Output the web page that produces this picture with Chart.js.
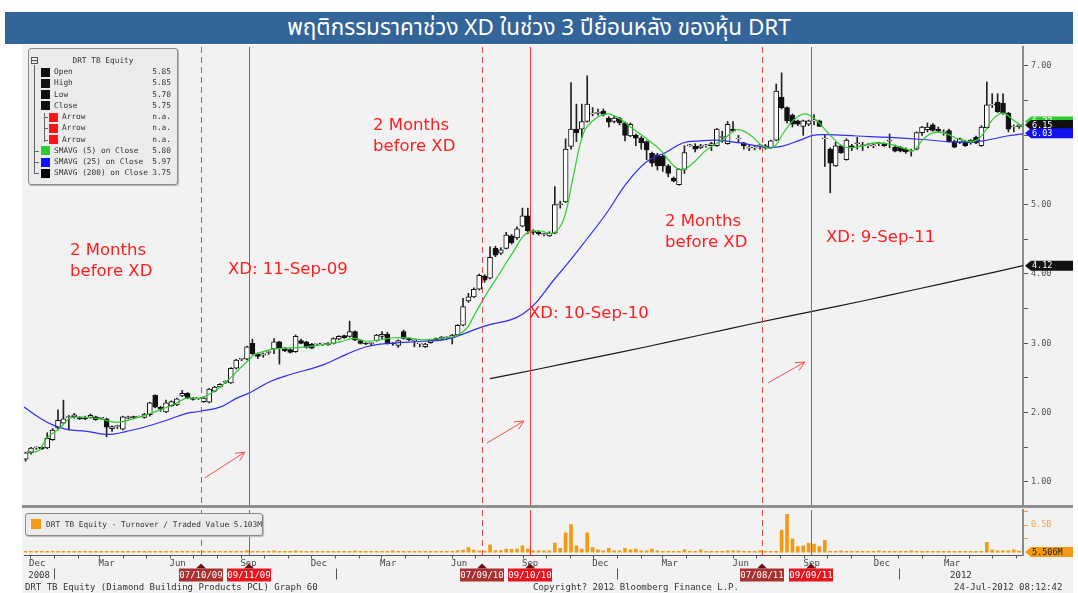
<!DOCTYPE html>
<html>
<head>
<meta charset="utf-8">
<script src="https://cdn.jsdelivr.net/npm/chart.js@4.4.1/dist/chart.umd.min.js"></script>
<style>
  html, body { margin: 0; padding: 0; background: #fff; }
  body { width: 1078px; height: 593px; position: relative; overflow: hidden; font-family: 'DejaVu Sans Mono', monospace; }
  #bar { position: absolute; left: 5px; top: 12px; width: 1068px; height: 32px; background: #33649a; color: #fff;
         text-align: center; font: 22.5px 'Noto Sans Thai', 'Noto Sans', 'DejaVu Sans', sans-serif; line-height: 32px; }
  #panel { position: absolute; left: 22px; top: 45px; width: 1051px; height: 548px; background: #f2f2f2; }
  .wrap { position: absolute; left: 22px; width: 1051px; }
  #pwrap { top: 45px; height: 463px; }
  #vwrap { top: 509px; height: 76px; }
  #sep { position: absolute; left: 22px; top: 505px; width: 1051px; height: 3px; background: #8f8f8f; }
  .note { position: absolute; color: #ff1e1e; font: 16.5px 'DejaVu Sans', sans-serif; line-height: 21px; white-space: nowrap; }
  .foot { position: absolute; top: 582px; font: 9px 'DejaVu Sans Mono', monospace; color: #333; white-space: nowrap; }
  .box { position: absolute; background: #ebebeb; border: 1px solid #8a8a8a; border-radius: 3px;
         box-shadow: 1px 1px 1px #b5b5b5; font: 7.8px 'DejaVu Sans Mono', monospace; color: #333; }
  .box div, .box span { position: absolute; white-space: nowrap; }
</style>
</head>
<body>
<div id="bar">พฤติกรรมราคาช่วง XD ในช่วง 3 ปีย้อนหลัง ของหุ้น DRT</div>
<div id="panel"></div>
<div class="wrap" id="pwrap"><canvas id="priceChart"></canvas></div>
<div class="wrap" id="vwrap"><canvas id="volChart"></canvas></div>
<div id="sep"></div>

<div class="box" id="lg" style="left:28px;top:48px;width:148px;height:135px;"></div>
<div class="box" id="vlg" style="left:25px;top:513px;width:236px;height:21px;">
  <div style="left:5px;top:5px;width:10px;height:10px;background:#f39a12;"></div>
  <div style="left:20px;top:5px;line-height:11px;">DRT TB Equity - Turnover / Traded Value 5.103M</div>
</div>

<div class="note" style="left:70px;top:239px;">2 Months<br>before XD</div>
<div class="note" style="left:228px;top:258px;">XD: 11-Sep-09</div>
<div class="note" style="left:373px;top:114px;">2 Months<br>before XD</div>
<div class="note" style="left:529px;top:302px;">XD: 10-Sep-10</div>
<div class="note" style="left:665px;top:210px;">2 Months<br>before XD</div>
<div class="note" style="left:826px;top:226px;">XD: 9-Sep-11</div>

<div class="foot" style="left:25px;">DRT TB Equity (Diamond Building Products PCL) Graph 60</div>
<div class="foot" style="left:533px;">Copyright? 2012 Bloomberg Finance L.P.</div>
<div class="foot" style="left:954px;">24-Jul-2012 08:12:42</div>

<script>
// weekly bars, first week starting 25 Nov 2008
const startDate = '2008-11-25';

const openPx = [
  1.33,1.42,1.49,1.50,1.49,1.61,1.78,1.85,1.93,1.94,
  1.93,1.93,1.93,1.94,1.92,1.91,1.77,1.80,1.76,1.92,
  1.94,1.94,1.93,1.97,2.25,2.08,2.01,2.10,2.11,2.24,
  2.28,2.21,2.21,2.16,2.15,2.31,2.37,2.44,2.43,2.64,
  2.77,2.77,3.00,2.85,2.83,2.87,2.92,3.02,2.93,2.91,
  2.88,3.04,3.02,2.99,2.99,2.99,2.98,3.00,3.06,3.11,
  3.10,3.17,3.04,3.00,3.00,3.04,3.10,3.13,3.00,2.97,
  3.17,3.07,3.04,2.99,2.95,3.01,3.07,3.06,3.08,3.08,
  3.12,3.26,3.61,3.67,3.78,3.97,3.94,4.37,4.30,4.37,
  4.55,4.52,4.69,4.84,4.62,4.60,4.57,4.55,4.59,5.00,
  5.04,5.84,6.09,6.09,6.20,6.31,6.32,6.35,6.25,6.20,
  6.24,6.18,5.99,6.00,5.96,5.91,5.74,5.72,5.70,5.56,
  5.38,5.29,5.51,5.85,5.84,5.82,5.85,5.85,5.85,5.97,
  5.88,6.09,5.95,5.89,5.82,5.82,5.85,5.82,5.82,5.93,
  6.55,6.40,6.29,6.21,6.13,6.16,6.21,6.21,5.95,5.80,
  5.56,5.85,5.65,5.85,5.88,5.85,5.85,5.85,5.88,5.88,
  5.92,5.83,5.83,5.80,5.77,5.80,6.04,6.08,6.15,6.09,
  6.04,6.07,5.91,5.90,5.91,5.89,5.97,5.85,6.11,6.44,
  6.48,6.46,6.32,6.12,6.12
];
const highPx = [
  1.43,1.50,1.51,1.51,1.71,1.77,2.04,2.18,1.96,1.99,
  1.94,1.95,1.98,1.95,1.93,1.92,1.81,1.82,1.95,1.95,
  1.95,1.95,1.99,2.15,2.26,2.09,2.18,2.17,2.21,2.32,
  2.29,2.22,2.22,2.22,2.35,2.38,2.42,2.46,2.65,2.77,
  2.78,2.96,3.06,2.86,2.86,2.89,3.07,3.03,2.94,2.92,
  3.12,3.06,3.03,3.00,3.00,3.00,3.01,3.08,3.11,3.12,
  3.32,3.18,3.05,3.01,3.01,3.13,3.17,3.16,3.01,3.05,
  3.19,3.08,3.05,3.00,3.00,3.06,3.08,3.10,3.09,3.13,
  3.27,3.65,3.72,3.80,4.00,3.99,4.39,4.40,4.38,4.60,
  4.57,4.68,4.95,4.95,4.64,4.62,4.59,4.61,5.26,5.05,
  5.95,6.76,6.45,6.45,6.86,6.40,6.38,6.38,6.27,6.27,
  6.26,6.19,6.18,6.02,5.98,5.92,5.76,5.74,5.72,5.58,
  5.40,5.52,5.85,5.87,5.88,5.87,5.87,5.90,6.10,6.06,
  6.20,6.20,6.00,5.90,5.86,5.84,5.87,5.87,5.93,6.74,
  6.90,6.41,6.31,6.22,6.22,6.22,6.30,6.22,6.00,5.82,
  5.90,5.86,5.95,5.87,5.97,5.90,5.88,5.88,5.90,5.89,
  6.02,5.86,5.84,5.82,5.80,6.05,6.13,6.18,6.17,6.12,
  6.08,6.09,5.93,5.96,5.93,5.94,5.99,6.14,6.77,6.60,
  6.60,6.60,6.33,6.15,6.16
];
const lowPx = [
  1.30,1.40,1.47,1.47,1.48,1.60,1.75,1.84,1.75,1.92,
  1.90,1.90,1.92,1.89,1.90,1.65,1.73,1.77,1.75,1.91,
  1.92,1.93,1.92,1.95,2.07,2.02,2.00,2.09,2.10,2.23,
  2.20,2.18,2.19,2.15,2.14,2.30,2.36,2.42,2.42,2.63,
  2.75,2.76,2.84,2.78,2.80,2.84,2.85,2.70,2.88,2.86,
  2.87,2.99,2.93,2.92,2.97,2.97,2.97,2.99,3.05,3.07,
  3.09,3.04,2.99,2.98,2.98,3.03,3.06,2.99,2.97,2.94,
  3.06,3.04,2.95,2.95,2.94,3.00,3.04,3.05,3.06,2.99,
  3.11,3.25,3.59,3.66,3.77,3.88,3.93,4.25,4.28,4.36,
  4.43,4.50,4.68,4.58,4.57,4.56,4.55,4.54,4.58,4.95,
  5.03,5.80,5.91,5.97,6.19,6.28,6.29,6.28,6.12,6.18,
  6.15,5.92,5.98,5.85,5.80,5.65,5.55,5.50,5.48,5.40,
  5.33,5.28,5.45,5.84,5.76,5.81,5.83,5.78,5.84,5.90,
  5.87,6.05,5.90,5.80,5.78,5.79,5.80,5.80,5.81,5.92,
  6.38,6.18,6.12,6.14,6.00,6.14,6.15,6.13,5.55,5.17,
  5.55,5.74,5.64,5.78,5.80,5.78,5.82,5.82,5.85,5.84,
  5.82,5.76,5.76,5.74,5.70,5.79,6.00,6.05,6.06,6.05,
  6.00,5.90,5.82,5.88,5.84,5.87,5.88,5.84,6.10,6.40,
  6.33,6.30,6.05,6.05,6.10
];
const closePx = [
  1.42,1.49,1.49,1.48,1.63,1.75,1.89,1.91,1.94,1.97,
  1.91,1.91,1.96,1.90,1.92,1.79,1.80,1.80,1.94,1.94,
  1.93,1.94,1.98,2.14,2.08,2.05,2.14,2.16,2.20,2.28,
  2.21,2.19,2.21,2.21,2.34,2.37,2.41,2.44,2.64,2.76,
  2.77,2.95,2.85,2.81,2.85,2.87,3.02,2.93,2.89,2.87,
  3.10,3.00,2.94,2.93,2.99,2.99,3.00,3.07,3.10,3.08,
  3.17,3.05,3.00,2.99,3.00,3.12,3.13,3.00,2.99,3.04,
  3.07,3.05,3.04,2.99,2.99,3.05,3.05,3.09,3.08,3.12,
  3.26,3.53,3.67,3.78,3.98,3.91,4.24,4.27,4.35,4.56,
  4.45,4.65,4.84,4.62,4.60,4.58,4.57,4.59,5.00,5.00,
  5.80,6.09,6.04,6.20,6.45,6.31,6.32,6.30,6.19,6.25,
  6.18,6.00,6.16,5.96,5.89,5.79,5.60,5.56,5.56,5.45,
  5.34,5.51,5.75,5.85,5.80,5.85,5.85,5.88,6.09,5.97,
  6.16,6.06,5.95,5.85,5.82,5.82,5.85,5.85,5.92,6.64,
  6.40,6.21,6.16,6.16,6.21,6.21,6.21,6.13,5.95,5.60,
  5.85,5.75,5.93,5.82,5.88,5.85,5.85,5.85,5.88,5.85,
  5.92,5.77,5.77,5.76,5.77,6.04,6.12,6.12,6.07,6.06,
  6.04,5.91,5.83,5.95,5.85,5.93,5.89,6.12,6.44,6.44,
  6.34,6.32,6.09,6.12,6.15
];

// moving averages: [week index, value]
const sma5Pts = [
  [0.2,1.44],[2.4,1.45],[3.9,1.63],[6.4,1.78],[8.2,1.92],[11.3,1.93],[13.8,1.91],[16.9,1.86],
  [19.9,1.91],[22.4,1.97],[24.9,2.04],[28,2.14],[29.8,2.21],[32.3,2.21],[34.8,2.30],[37.2,2.45],
  [39.7,2.64],[41.6,2.78],[42.2,2.83],[45.3,2.91],[48.3,2.93],[52,2.95],[55.1,2.98],[58.2,3.02],
  [60.7,3.07],[63.2,3.03],[65.6,3.05],[68.1,3.08],[70.6,3.08],[73.7,3.05],[76.7,3.07],[79.8,3.11],
  [81.7,3.22],[82.9,3.38],[85.4,3.72],[87.8,4.01],[90.3,4.32],[92.8,4.59],[95.3,4.62],[97.7,4.59],
  [99.6,4.78],[101.4,5.40],[103.3,6.03],[105.2,6.22],[107.7,6.31],[110.2,6.23],[112.7,6.08],
  [114.5,5.98],[117.5,5.79],[119.9,5.57],[121.5,5.50],[123.6,5.60],[126.1,5.79],[129.2,5.94],
  [131.7,6.08],[134.1,6.01],[136.6,5.84],[138.5,5.83],[140.3,6.03],[142.2,6.22],[144.3,6.31],
  [146.4,6.22],[148.9,6.01],[151.4,5.84],[153.9,5.83],[157,5.89],[160.1,5.87],[163.2,5.80],
  [164.4,5.78],[166.2,5.94],[168.1,6.04],[170.5,6.02],[173,5.94],[175.5,5.91],[177.3,6.02],
  [179.2,6.24],[181,6.32],[182.9,6.22],[184.7,6.12]
];
const sma25Pts = [
  [-0.3,2.08],[2.7,1.92],[5.1,1.82],[7.6,1.76],[11.3,1.73],[14.4,1.69],[16.2,1.69],[18.7,1.73],
  [22.4,1.80],[26.1,1.89],[29.8,1.99],[32.3,2.02],[36,2.08],[39.1,2.21],[41.6,2.29],[45.3,2.45],
  [49,2.55],[55.1,2.69],[59.4,2.84],[63.1,2.95],[67.4,3.00],[73.5,3.03],[78,3.06],[84.7,3.24],
  [92.2,3.43],[98.3,3.96],[103.3,4.44],[107.6,4.88],[111.3,5.31],[115,5.62],[118.7,5.76],
  [121.7,5.89],[124.9,5.92],[128,5.93],[132.3,5.89],[137.2,5.83],[140,5.84],[143.4,5.93],
  [145.8,6.00],[148.3,6.01],[153.9,5.99],[160.1,5.97],[166.2,5.94],[172.4,5.90],[177.3,5.92],
  [181.7,5.99],[184.7,6.02]
];
const sma200Pts = [
  [86,2.49],[95,2.63],[105,2.79],[115,2.95],[125,3.12],[135,3.29],[145,3.45],[155,3.61],
  [165,3.78],[175,3.95],[184.7,4.12]
];

// turnover, billions
const volume = [
  0.015,0.015,0.015,0.015,0.015,0.015,0.015,0.015,0.015,0.015,
  0.015,0.015,0.015,0.015,0.015,0.015,0.015,0.015,0.015,0.015,
  0.015,0.015,0.015,0.015,0.015,0.015,0.015,0.015,0.015,0.015,
  0.015,0.015,0.015,0.015,0.015,0.015,0.015,0.015,0.015,0.015,
  0.015,0.030,0.015,0.015,0.015,0.015,0.025,0.015,0.015,0.015,
  0.025,0.015,0.015,0.015,0.015,0.015,0.015,0.015,0.015,0.015,
  0.015,0.025,0.015,0.015,0.015,0.015,0.015,0.015,0.025,0.015,
  0.015,0.015,0.015,0.015,0.015,0.015,0.015,0.015,0.015,0.015,
  0.030,0.040,0.086,0.040,0.025,0.020,0.135,0.030,0.030,0.060,
  0.055,0.060,0.120,0.060,0.025,0.025,0.025,0.025,0.170,0.074,
  0.360,0.510,0.120,0.060,0.360,0.086,0.043,0.025,0.074,0.025,
  0.025,0.074,0.043,0.060,0.025,0.025,0.060,0.025,0.015,0.015,
  0.015,0.015,0.043,0.015,0.015,0.043,0.015,0.015,0.015,0.015,
  0.025,0.025,0.025,0.015,0.015,0.015,0.025,0.015,0.015,0.015,
  0.410,0.700,0.250,0.105,0.120,0.170,0.150,0.105,0.220,0.015,
  0.015,0.025,0.015,0.015,0.015,0.015,0.015,0.015,0.025,0.015,
  0.015,0.015,0.015,0.015,0.025,0.015,0.015,0.015,0.015,0.015,
  0.015,0.015,0.015,0.015,0.015,0.015,0.015,0.015,0.185,0.043,
  0.025,0.025,0.025,0.043,0.020
];

const eventDates = ['2009-07-10', '2009-09-11', '2010-07-09', '2010-09-10', '2011-07-08', '2011-09-09'];
const eventKinds = ['pre', 'xd', 'pre', 'xd', 'pre', 'xd'];
const eventTags = ['07/10/09', '09/11/09', '07/09/10', '09/10/10', '07/08/11', '09/09/11'];

const priceTicks = [1, 2, 3, 4, 5, 6, 7];
const priceMinorTicks = [1.5, 2.5, 3.5, 4.5, 5.5, 6.5];
const volTicks = [0.25, 0.5, 0.75];
const volTickLabels = ['', '0.5B', ''];
const monthNames = ['Jan', 'Feb', 'Mar', 'Apr', 'May', 'Jun', 'Jul', 'Aug', 'Sep', 'Oct', 'Nov', 'Dec'];
const years = [2008, 2009, 2010, 2011, 2012];

const lastValues = [6.20, 6.15, 6.03, 4.12];
const lastLabels = ['6.22', '6.15', '6.03', '4.12'];
const volLast = 0.0055, volLastLabel = '5.506M';

const legendNames = ['Open', 'High', 'Low', 'Close', 'Arrow', 'Arrow', 'Arrow',
  'SMAVG (5) on Close', 'SMAVG (25) on Close', 'SMAVG (200) on Close'];
const legendValues = ['5.85', '5.85', '5.70', '5.75', 'n.a.', 'n.a.', 'n.a.', '5.80', '5.97', '3.75'];

// ---- colours
const cGreen = '#2fcc2f', cBlue = '#2f2ff0', cBlack = '#1a1a1a', cOrange = '#f39a12';
const legendSwatches = ['#111', '#111', '#111', '#111', '#ff1414', '#ff1414', '#ff1414', cGreen, '#1010ff', '#000'];
const tagColors = [cGreen, '#111', '#1212ee', '#111'];

const xMin = -0.3, xMax = 184.7;
const weekIdx = d => (Date.parse(d) - Date.parse(startDate)) / (7 * 864e5);
const mono = 'DejaVu Sans Mono';

Chart.defaults.font.family = mono;
Chart.defaults.animation = false;

// legend box (price panel)
(function buildLegend() {
  const lg = document.getElementById('lg');
  let h = '<div style="left:2px;top:8px;width:5px;height:5px;border:1px solid #555;"></div>' +
          '<div style="left:3px;top:11px;width:5px;height:1px;background:#555;"></div>' +
          '<div style="left:0;width:148px;top:7px;text-align:center;line-height:10px;">DRT TB Equity</div>' +
          '<div style="left:5px;top:16px;width:1px;height:109px;background:#666;"></div>' +
          '<div style="left:15px;top:64px;width:1px;height:29px;background:#666;"></div>';
  legendNames.forEach((n, i) => {
    const sub = n === 'Arrow';
    const cy = 23 + i * 11.25;
    const sx = sub ? 20 : 12;
    if (sub) h += `<div style="left:15px;top:${cy}px;width:4px;height:1px;background:#666;"></div>`;
    if (i >= 7) h += `<div style="left:5px;top:${cy}px;width:5px;height:1px;background:#666;"></div>`;
    h += `<div style="left:${sx}px;top:${cy - 4.5}px;width:9px;height:9px;background:${legendSwatches[i]};"></div>`;
    h += `<div style="left:${sx + 13}px;top:${cy - 5}px;line-height:10px;">${n}</div>`;
    h += `<div style="right:6px;top:${cy - 5}px;line-height:10px;">${legendValues[i]}</div>`;
  });
  lg.innerHTML = h;
})();

function drawArrow(ctx, x0, y0, x1, y1) {
  const ang = Math.atan2(y1 - y0, x1 - x0);
  ctx.beginPath();
  ctx.moveTo(x0, y0); ctx.lineTo(x1, y1);
  ctx.moveTo(x1, y1); ctx.lineTo(x1 - 10 * Math.cos(ang - 0.45), y1 - 10 * Math.sin(ang - 0.45));
  ctx.moveTo(x1, y1); ctx.lineTo(x1 - 10 * Math.cos(ang + 0.45), y1 - 10 * Math.sin(ang + 0.45));
  ctx.stroke();
}

function drawTag(ctx, xL, xR, y, bg, fg, text) {
  const h = 10;
  ctx.fillStyle = bg;
  ctx.beginPath();
  ctx.moveTo(xL, y);
  ctx.lineTo(xL + 6, y - h / 2);
  ctx.lineTo(xR, y - h / 2);
  ctx.lineTo(xR, y + h / 2);
  ctx.lineTo(xL + 6, y + h / 2);
  ctx.closePath();
  ctx.fill();
  ctx.fillStyle = fg;
  ctx.font = `8.5px "${mono}"`;
  ctx.textAlign = 'left';
  ctx.textBaseline = 'middle';
  ctx.fillText(text, xL + 7, y + 0.5);
}

function eventLines(chart) {
  const { ctx, chartArea: a, scales: { x } } = chart;
  ctx.save();
  ctx.lineWidth = 1;
  eventDates.forEach((d, i) => {
    const px = Math.round(x.getPixelForValue(weekIdx(d))) + 0.5;
    const xd = eventKinds[i] === 'xd';
    ctx.strokeStyle = xd ? '#ff3535' : '#dc4a4a';
    ctx.setLineDash(xd ? [] : [6, 4]);
    ctx.beginPath();
    ctx.moveTo(px, a.top);
    ctx.lineTo(px, a.bottom);
    ctx.stroke();
  });
  ctx.restore();
}

const priceExtras = {
  id: 'priceExtras',
  afterDatasetsDraw(chart) {
    const { ctx, scales: { x, y } } = chart;
    eventLines(chart);
    // arrows pointing at each XD line
    const arrows = [[33.2, 1.06, 40.6, 1.43], [85.4, 1.56, 92.3, 1.88], [137.5, 2.43, 144.3, 2.73]];
    ctx.save();
    ctx.strokeStyle = '#f24d4d';
    ctx.lineWidth = 1;
    arrows.forEach(([a0, b0, a1, b1]) =>
      drawArrow(ctx, x.getPixelForValue(a0), y.getPixelForValue(b0), x.getPixelForValue(a1), y.getPixelForValue(b1)));
    ctx.restore();
  },
  afterDraw(chart) {
    const { ctx, chartArea: a, scales: { y } } = chart;
    ctx.save();
    lastValues.forEach((v, i) => {
      drawTag(ctx, a.right + 2, chart.width, y.getPixelForValue(v), tagColors[i], '#fff', lastLabels[i]);
    });
    ctx.restore();
  }
};

const volExtras = {
  id: 'volExtras',
  afterDatasetsDraw(chart) {
    eventLines(chart);
  },
  afterDraw(chart) {
    const { ctx, chartArea: a, scales: { x, y } } = chart;
    ctx.save();
    ctx.font = `9px "${mono}"`;
    ctx.textBaseline = 'middle';
    ctx.textAlign = 'center';
    // year separators and year labels
    years.forEach(yr => {
      const s = Math.max(weekIdx(`${yr}-01-01`), xMin);
      const e = Math.min(weekIdx(`${yr + 1}-01-01`), xMax);
      if (e <= s) return;
      if (s > xMin) {
        const px = Math.round(x.getPixelForValue(s)) + 0.5;
        ctx.strokeStyle = '#555';
        ctx.beginPath(); ctx.moveTo(px, a.bottom + 13); ctx.lineTo(px, a.bottom + 24); ctx.stroke();
      }
      ctx.fillStyle = '#333';
      ctx.fillText(String(yr), (x.getPixelForValue(s) + x.getPixelForValue(e)) / 2, a.bottom + 20);
    });
    // date tags under the axis
    eventDates.forEach((d, i) => {
      const px = Math.round(x.getPixelForValue(weekIdx(d)));
      const xd = eventKinds[i] === 'xd';
      ctx.fillStyle = '#6e1010';
      ctx.beginPath();
      ctx.moveTo(px - 5, a.bottom + 13); ctx.lineTo(px, a.bottom + 8); ctx.lineTo(px + 5, a.bottom + 13);
      ctx.closePath(); ctx.fill();
      ctx.fillStyle = xd ? '#e8141e' : '#a83030';
      ctx.fillRect(px - 22, a.bottom + 13, 44, 13);
      ctx.fillStyle = '#fff';
      ctx.fillText(eventTags[i], px, a.bottom + 20);
    });
    drawTag(ctx, a.right + 2, chart.width, y.getPixelForValue(volLast), cOrange, '#222', volLastLabel);
    ctx.restore();
  }
};

// ---- price panel
const wickData = highPx.map((h, k) => ({ x: k, y: [lowPx[k], h] }));
const bodyData = openPx.map((o, k) => {
  const lo = Math.min(o, closePx[k]), hi = Math.max(o, closePx[k]);
  return { x: k, y: [lo, Math.max(hi, lo + 0.012)] };
});
const toXY = pts => pts.map(([x, y]) => ({ x, y }));

new Chart(document.getElementById('priceChart'), {
  type: 'bar',
  data: {
    datasets: [
      { type: 'line', data: toXY(sma5Pts), borderColor: cGreen, borderWidth: 1.2, pointRadius: 0, tension: 0.4, order: 0 },
      { type: 'line', data: toXY(sma25Pts), borderColor: cBlue, borderWidth: 1.2, pointRadius: 0, tension: 0.4, order: 1 },
      { type: 'line', data: toXY(sma200Pts), borderColor: cBlack, borderWidth: 1.2, pointRadius: 0, tension: 0.4, order: 1 },
      { data: bodyData, barThickness: 5, grouped: false, borderSkipped: false, borderWidth: 1, borderColor: '#111',
        backgroundColor: c => closePx[c.dataIndex] < openPx[c.dataIndex] ? '#111' : '#fff', order: 2 },
      { data: wickData, barThickness: 1, grouped: false, backgroundColor: '#222', order: 3 }
    ]
  },
  options: {
    responsive: true,
    maintainAspectRatio: false,
    events: [],
    layout: { padding: { left: 2, top: 2, right: 0, bottom: 3 } },
    plugins: { legend: { display: false }, tooltip: { enabled: false } },
    scales: {
      x: { type: 'linear', min: xMin, max: xMax, offset: false, display: false },
      y: {
        position: 'right', min: 0.668, max: 7.274,
        afterBuildTicks: s => { s.ticks = priceTicks.concat(priceMinorTicks).sort((a, b) => a - b).map(v => ({ value: v })); },
        ticks: { autoSkip: false, padding: 3, color: '#555', font: { size: 8.5 },
                 callback: v => priceTicks.includes(v) ? v.toFixed(2) : '' },
        grid: { drawOnChartArea: false, drawTicks: true, tickLength: 5, tickColor: '#555' },
        border: { display: true, color: '#8a8a8a', width: 2 },
        afterFit: s => { s.width = 50; s.paddingTop = 0; s.paddingBottom = 0; }
      }
    }
  },
  plugins: [priceExtras]
});

// ---- turnover panel
const monthTicks = [];
years.forEach(yr => monthNames.forEach((name, m) => {
  const mm = String(m + 1).padStart(2, '0');
  const s = weekIdx(`${yr}-${mm}-01`), mid = weekIdx(`${yr}-${mm}-10`);
  if (s >= xMin && s <= xMax) monthTicks.push({ value: s, edge: true, text: '' });
  if (m % 3 === 2 && mid >= xMin && mid <= xMax) monthTicks.push({ value: mid, edge: false, text: name });
}));

new Chart(document.getElementById('volChart'), {
  type: 'bar',
  data: {
    datasets: [{ data: volume.map((v, k) => ({ x: k, y: v })), barThickness: 3, backgroundColor: cOrange }]
  },
  options: {
    responsive: true,
    maintainAspectRatio: false,
    events: [],
    layout: { padding: { left: 2, top: 1, right: 0, bottom: 0 } },
    plugins: { legend: { display: false }, tooltip: { enabled: false } },
    scales: {
      x: {
        type: 'linear', min: xMin, max: xMax, offset: false,
        afterBuildTicks: s => { s.ticks = monthTicks.map(t => Object.assign({}, t)); },
        ticks: { autoSkip: false, maxRotation: 0, padding: 0, color: '#444', font: { size: 9 },
                 callback: (v, i, t) => t[i].text },
        grid: { drawOnChartArea: false, drawTicks: true, tickLength: 3, offset: false,
                tickColor: c => (c.tick && c.tick.edge) ? '#555' : 'rgba(0,0,0,0)' },
        border: { display: true, color: '#555', width: 1 },
        afterFit: s => { s.height = 29.5; s.paddingLeft = 0; s.paddingRight = 0; }
      },
      y: {
        position: 'right', min: -0.06, max: 0.78,
        afterBuildTicks: s => { s.ticks = volTicks.map(v => ({ value: v })); },
        ticks: { autoSkip: false, padding: 3, color: '#eba850', font: { size: 8.5 },
                 callback: (v, i) => volTickLabels[i] },
        grid: { drawOnChartArea: false, drawTicks: true, tickLength: 5, tickColor: '#f0a040' },
        border: { display: true, color: '#8a8a8a', width: 2 },
        afterFit: s => { s.width = 50; s.paddingTop = 0; s.paddingBottom = 0; }
      }
    }
  },
  plugins: [volExtras]
});
</script>
</body>
</html>
